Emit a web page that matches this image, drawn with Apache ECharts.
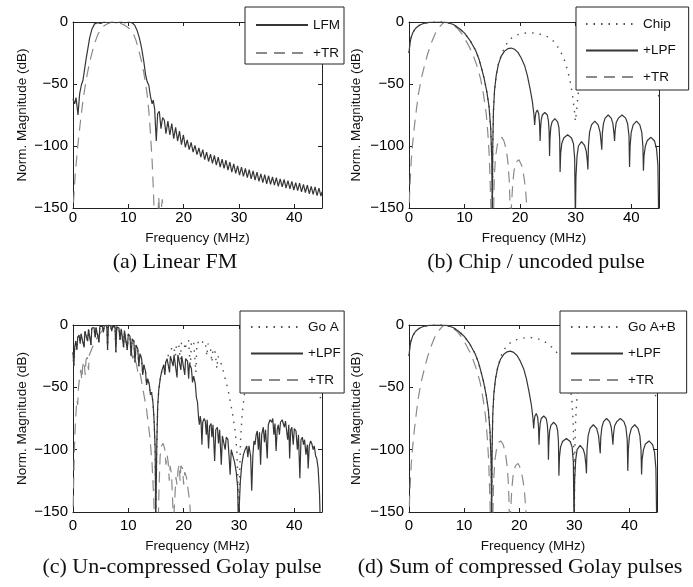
<!DOCTYPE html>
<html><head><meta charset="utf-8">
<script src="https://cdn.jsdelivr.net/npm/echarts/dist/echarts.min.js"></script>
<style>html,body{margin:0;padding:0;background:#fff}#c{width:693px;height:587px}</style>
</head><body><div id="c"></div>
<script>
// ---------- data (frequency MHz, normalized magnitude dB) ----------
const xTickStep = 10, xMin = 0, xMax = 45;
const yTickStep = 50, yMin = -150, yMax = 0;
const captions = ['(a) Linear FM', '(b) Chip / uncoded pulse', '(c) Un-compressed Golay pulse', '(d) Sum of compressed Golay pulses'];

// (a) Linear FM
const lfmA = [[0,-62],[0.3,-66],[0.55,-61],[0.9,-75],[1.2,-58],[1.5,-51],[1.8,-47],[2.1,-38],[2.4,-29],[2.7,-21],[3.0,-13],[3.4,-6],[3.9,-1.5],[4.4,-0.5],[5.0,-1.2],[5.6,0],[6.3,-0.6],[7.0,0],[7.8,-0.6],[8.6,0],[9.4,-0.6],[10.2,0],[10.8,-1],[11.2,-3],[11.6,-7],[12.0,-13],[12.4,-21],[12.8,-32],[13.1,-42],[13.4,-48],[13.7,-51],[14.0,-60],[14.3,-66],[14.5,-63],[14.75,-70],[15.05,-96],[15.3,-74],[15.6,-72],[15.9,-86],[16.2,-77],[16.5,-79],
[16.8,-90],[17.15,-80],[17.5,-91],[17.85,-82],[18.2,-94],[18.55,-85],[18.9,-96],[19.25,-88],[19.6,-99],[19.95,-91],[20.3,-101],[20.65,-95],[21.0,-103],[21.35,-97],[21.7,-105],[22.05,-99.5],[22.4,-107],[22.75,-101.5],[23.1,-109],[23.45,-103],[23.8,-111],[24.15,-105],[24.5,-112.5],[24.85,-106.5],[25.2,-114],[25.55,-107.5],[25.9,-115.5],[26.25,-109],[26.6,-117],[26.95,-110.5],[27.3,-118],[27.65,-111.5],[28.0,-119.5],[28.35,-113],[28.7,-121],[29.05,-114.5],[29.4,-122],[29.75,-116],[30.1,-123.5],[30.45,-117],[30.8,-124.5],[31.15,-118],[31.5,-125.5],[31.85,-119],[32.2,-126.5],[32.55,-120],[32.9,-127.5],[33.25,-121],[33.6,-128.5],[33.95,-122.5],[34.3,-129.5],[34.65,-123],[35.0,-130.5],[35.35,-124],[35.7,-131],[36.05,-125],[36.4,-131.5],[36.75,-125.5],[37.1,-132.5],[37.45,-126.5],[37.8,-133],[38.15,-127],[38.5,-134],[38.85,-128],[39.2,-134.5],[39.55,-128.5],[39.9,-135.5],[40.25,-129.5],[40.6,-136],[40.95,-130],[41.3,-137],[41.65,-131],[42.0,-137.5],[42.35,-131.5],[42.7,-138.5],[43.05,-132.5],[43.4,-139],[43.75,-133],[44.1,-140],[44.45,-134],[44.8,-140.5],[45.0,-137]];
const trA = [[0,-160],[0.1,-145],[0.4,-123],[0.7,-108],[1.0,-94],[1.35,-80],[1.7,-67],[2.05,-56],[2.4,-46],[2.8,-37],[3.2,-29],[3.6,-22],[4.0,-16],[4.5,-10],[5.0,-6],[5.5,-3.5],[6.0,-2],[6.7,-0.6],[7.4,0],[8.0,-0.4],[8.5,-1],[9.2,-2.3],[9.8,-4],[10.3,-5.5],[10.6,-7],[11.0,-10.5],[11.4,-15],[11.9,-23],[12.4,-32],[12.8,-41],[13.2,-52],[13.5,-62],[13.7,-72],[14.0,-90],[14.3,-112],[14.55,-138],[14.7,-160],[15.3,-160],[15.5,-141],[15.7,-160],[15.95,-160],[16.15,-143],[16.35,-160]];

// (b) Chip / uncoded pulse  (same LPF / TR curves also read in (d))
const lpfMainB = [[0,-25],[0.15,-18],[0.35,-13],[0.7,-8.5],[1.2,-5],[1.8,-2.8],[2.6,-1.2],[3.6,-0.3],[4.8,0],[6.0,0],[7.0,-0.6],[8.0,-2],[9.0,-5],[10.0,-9],[11.0,-15],[12.0,-23],[12.6,-30],[13.1,-38],[13.5,-45],[14.0,-56],[14.4,-68],[14.7,-85],[14.9,-110],[15.0,-160]];
const lpfSideB = [[15.08,-100],[15.2,-72],[15.4,-55],[15.7,-43],[16.1,-34],[16.6,-27.5],[17.2,-23.5],[17.8,-21.5],[18.4,-21],[19.0,-22],[19.6,-24.5],[20.2,-29],[20.8,-35],[21.3,-43],[21.8,-54],[22.2,-64],[22.5,-75],[22.62,-83],
[22.72,-77],[22.85,-73],[23.1,-71],[23.35,-74],[23.5,-82],[23.6,-96],
[23.68,-86],[23.8,-79],[24.0,-75],[24.45,-73],[24.9,-75],[25.1,-80],[25.22,-88],[25.3,-108],
[25.38,-94],[25.52,-85],[25.75,-80.5],[26.25,-78],[26.75,-80.5],[26.98,-85],[27.12,-94],[27.2,-121],
[27.3,-106],[27.5,-98],[27.85,-93.5],[28.55,-91],[29.25,-93.5],[29.6,-98],[29.82,-110],[29.95,-160],
[30.05,-125],[30.25,-108],[30.5,-100],[31.05,-96.5],[31.6,-99.5],[31.9,-104],[32.1,-112],[32.2,-119],
[32.3,-100],[32.5,-89],[32.85,-83],[33.45,-80],[34.05,-83],[34.4,-89],[34.6,-98],[34.7,-103],
[34.8,-90],[35.0,-82],[35.3,-77.5],[35.85,-75],[36.4,-77.5],[36.7,-82],[36.9,-90],[37.0,-96],
[37.1,-88],[37.3,-81],[37.7,-77.5],[38.35,-75],[39.0,-77.5],[39.35,-82],[39.6,-92],[39.7,-117],
[39.8,-100],[40.0,-89],[40.35,-83],[40.95,-80],[41.55,-83],[41.9,-89],[42.1,-100],[42.2,-120],
[42.3,-108],[42.55,-100],[42.9,-95.5],[43.55,-93],[44.2,-96],[44.55,-102],[44.8,-115],[44.95,-160]];
const trB = [[0,-160],[0.1,-140],[0.4,-112],[0.7,-96],[1.0,-83],[1.35,-70],[1.7,-58],[2.2,-46],[2.8,-35],[3.4,-25],[4.1,-16],[4.8,-8.5],[5.5,-4],[6.0,-1.5],[6.5,0],[7.2,-0.5],[8.0,-2.5],[8.8,-5.5],[9.6,-10],[10.5,-17],[11.4,-25],[12.2,-35],[12.9,-46],[13.4,-58],[13.9,-74],[14.2,-90],[14.45,-108],[14.65,-135],[14.8,-160],
[15.2,-160],[15.35,-125],[15.6,-108],[15.9,-99],[16.3,-94],[16.7,-93],[17.1,-96],[17.5,-103],[17.8,-113],[18.05,-128],[18.2,-150],[18.3,-160],
[18.5,-160],[18.65,-132],[18.9,-120],[19.3,-113],[19.8,-111],[20.3,-116],[20.7,-125],[21.0,-136],[21.25,-152],[21.35,-160]];
const chipUpperB = [[15.08,-100],[15.2,-72],[15.4,-55],[15.7,-43],[16.1,-34],[16.6,-27],[17.2,-20.5],[17.8,-16],[18.5,-12.8],[19.2,-10.8],[20,-9.6],[21,-8.9],[22,-8.7],[23,-9.1],[24,-10.2],[25,-12],[25.7,-14],[26.5,-18],[27.3,-24],[28,-31],[28.6,-40],[29.1,-50],[29.5,-61],[29.8,-73],[29.95,-80],[30.05,-80],[30.2,-70],[30.5,-56],[31,-44],[32,-31],[33,-24],[34,-20],[35,-17.5],[36,-16.5],[37,-16.5],[38,-17.5],[39,-19.5],[40,-22],[41,-26],[42,-31],[43,-38],[43.8,-45],[44.3,-50],[44.7,-55],[45,-61]];

// (c) Un-compressed Golay pulse
const lpfC1 = [[0,-22],[0.15,-33],[0.3,-18],[0.5,-13],[0.7,-20],[0.85,-10],[1.1,-8],[1.3,-15],[1.45,-7],[1.8,-5.5],[2.0,-18],[2.15,-5],[2.5,-4],[2.65,-13],[2.8,-3.5],[3.1,-3],[3.25,-16],[3.4,-2.5],[3.8,-2],[4.0,-10],[4.15,-2],[4.5,-1.5],[4.7,-14],[4.85,-1.2],[5.3,-1],[5.5,-6],[5.65,-0.5],[6.1,-0.3],[6.25,-20],[6.4,0],[6.8,-0.5],[7.0,-5],[7.2,-0.8],[7.6,-1.5],[7.75,-22],[7.9,-1.5],[8.3,-2.5],[8.5,-12],[8.7,-3],[9.0,-4],[9.15,-18],[9.3,-4.5],[9.6,-6],[9.8,-20],[10.0,-7],[10.3,-9],[10.5,-25],[10.7,-11],[11.0,-13],[11.2,-30],[11.4,-16],[11.7,-19],[11.9,-33],[12.1,-23],[12.4,-27],[12.6,-40],[12.8,-32],[13.1,-37],[13.3,-48],[13.5,-43],[13.8,-48],[14.0,-56],[14.2,-54],[14.45,-62],[14.65,-76],[14.85,-100],[14.95,-160],
[15.05,-160],[15.15,-95],[15.3,-66],[15.5,-52],[15.8,-42],[16.1,-36],[16.4,-32],[16.6,-40],[16.75,-30],[17.0,-27]];
const lpfC2 = [[17.3,-26],[17.45,-38],[17.6,-25],[17.9,-24],[18.1,-33],[18.25,-24],[18.6,-23],[18.8,-42],[18.95,-24],[19.3,-24],[19.5,-36],[19.65,-25],[20.0,-26],[20.2,-40],[20.35,-27],[20.7,-29],[20.9,-43],[21.05,-31],[21.4,-35],[21.6,-46],[21.8,-41],[22.1,-47],[22.3,-58],[22.5,-62],[22.7,-75],
[22.85,-80],[23.0,-73],[23.15,-78],[23.3,-96],[23.45,-78],[23.7,-75],[23.9,-77],[24.1,-88],[24.25,-76],[24.5,-99],[24.7,-81],[24.95,-79],[25.1,-90],[25.3,-80],[25.6,-109],[25.8,-84],[26.1,-82],[26.3,-95],[26.5,-84],[26.8,-112],[27.0,-89],[27.3,-88],[27.5,-100],[27.7,-90],[28.0,-92],[28.2,-105],[28.4,-120],[28.6,-100],[28.9,-101],[29.2,-110],[29.5,-118],[29.75,-130],[29.9,-160],
[30.05,-160],[30.25,-125],[30.5,-112],[30.8,-104],[31.1,-100],[31.4,-97],[31.6,-106],[31.8,-97],[32.1,-105],[32.3,-133],[32.5,-105],[32.7,-93],[32.9,-96],[33.1,-88],[33.3,-85],[33.5,-100],[33.7,-86],[33.9,-112],[34.1,-88],[34.4,-82],[34.6,-94],[34.8,-84],[35.1,-107],[35.3,-80],[35.6,-76],[35.9,-78],[36.1,-75],[36.3,-88],[36.5,-79],[36.7,-101],[36.9,-84],[37.1,-80],[37.3,-88],[37.5,-78],[37.8,-76],[38.0,-75],[38.2,-82],[38.4,-77],[38.6,-78],[38.8,-92],[39.0,-80],[39.15,-107],[39.35,-84],[39.55,-82],[39.8,-96],[40.0,-83],[40.3,-85],[40.55,-100],[40.75,-88],[41.0,-123],[41.2,-92],[41.45,-90],[41.65,-96],[41.85,-92],[42.1,-104],[42.35,-96],[42.5,-115],[42.7,-97],[42.95,-93],[43.15,-95],[43.4,-100],[43.6,-97],[43.85,-105],[44.05,-107],[44.3,-115],[44.55,-135],[44.7,-160]];
const goAUpperC = [[17.4,-22],[17.8,-19],[18.2,-17],[18.5,-25],[18.7,-16],[19.1,-15],[19.4,-28],[19.6,-14.5],[20.0,-13.5],[20.3,-20],[20.5,-13],[20.9,-12.5],[21.2,-35],[21.4,-13],[21.8,-13],[22.2,-38],[22.4,-14],[22.8,-14],[23.2,-16],[23.5,-13],[23.9,-13.5],[24.2,-25],[24.4,-15],[24.8,-17],[25.1,-30],[25.3,-19],[25.7,-22],[26.0,-35],[26.2,-25],[26.6,-29],[27.0,-34],[27.3,-40],[27.7,-46],[28.1,-54],[28.5,-63],[28.9,-73],[29.3,-85],[29.6,-100],[29.85,-130],[29.95,-160],[30.05,-130],[30.3,-90],[30.6,-70],[31,-55],[32,-40],[33,-32],[34,-27],[35,-25],[36,-24],[37,-24],[38,-25],[39,-27],[40,-30],[41,-34],[42,-39],[43,-45],[44,-52],[44.6,-57],[45,-62]];
const trC = [[0,-160],[0.1,-130],[0.25,-100],[0.4,-82],[0.55,-70],[0.7,-60],[0.85,-64],[1.0,-50],[1.2,-42],[1.4,-36],[1.6,-44],[1.75,-33],[2.0,-29],[2.2,-40],[2.35,-28],[2.6,-26],[2.8,-36],[2.95,-24],[3.4,-19],[3.9,-14],[4.5,-9],[5.2,-5],[5.9,-2],[6.5,-0.5],[7.1,-1],[7.8,-3],[8.5,-6],[9.2,-10],[9.9,-15],[10.5,-20],[10.8,-27],[11.0,-24],[11.5,-32],[11.8,-40],[12.1,-38],[12.7,-53],[13.3,-68],[13.9,-90],[14.3,-112],[14.6,-140],[14.75,-160],
[15.4,-160],[15.55,-130],[15.75,-105],[16.0,-97],[16.3,-95],[16.6,-100],[16.8,-112],[17.0,-104],[17.2,-110],[17.4,-125],[17.55,-113],[17.8,-120],[18.0,-140],[18.15,-160],
[18.3,-160],[18.45,-135],[18.6,-122],[18.8,-128],[19.0,-116],[19.2,-112],[19.35,-125],[19.5,-113],[19.8,-115],[20.0,-128],[20.2,-118],[20.5,-122],[20.8,-132],[21.1,-142],[21.3,-160]];

// (d) Sum of compressed Golay pulses
const goABUpperD = [[15.08,-100],[15.2,-72],[15.4,-55],[15.7,-43],[16.1,-34],[16.6,-26],[17.2,-20],[18,-15.5],[19,-12.5],[20,-11],[21,-10.3],[22,-10],[23,-10.5],[24,-12],[25,-14.5],[26,-18],[27,-23],[28,-30],[28.7,-38],[29.2,-48],[29.55,-60],[29.8,-80],[29.93,-110],[30.0,-160],[30.07,-110],[30.2,-80],[30.45,-60],[30.8,-48],[31.3,-38],[32,-30],[33,-23],[34,-19.5],[35,-17.5],[36,-16.5],[37,-16.5],[38,-17.5],[39,-19.5],[40,-22],[41,-26],[42,-31],[43,-38],[43.8,-45],[44.4,-52],[45,-60]];

// ---------- layout / styles ----------
const SANS = '"Liberation Sans", Arial, Helvetica, sans-serif';
const SERIF = '"Liberation Serif", "Times New Roman", serif';
const INK = '#111';
const grids = [
  {left: 73, top: 22, width: 249, height: 186, lblMargin: 2, nameGap: 23, yNameGap: 44},
  {left: 409, top: 22, width: 250, height: 186, lblMargin: 2, nameGap: 23, yNameGap: 46},
  {left: 73, top: 325, width: 249, height: 187, lblMargin: 6, nameGap: 27, yNameGap: 44},
  {left: 409, top: 325, width: 248, height: 187, lblMargin: 6, nameGap: 27, yNameGap: 46}
];
const SOLID = {color: '#363636', width: 1.2, type: 'solid'};
const DASH = {color: '#8a8a8a', width: 1.2, type: [11, 7]};
const DOT = {color: '#505050', width: 1.4, type: [1.5, 6]};

const xAxis = [], yAxis = [];
grids.forEach((g, i) => {
  const axLine = {show: true, onZero: false, lineStyle: {color: '#222', width: 1}};
  const tick = {show: true, inside: true, length: 4, lineStyle: {color: '#222', width: 1}};
  xAxis.push({gridIndex: i, type: 'value', min: xMin, max: xMax, interval: xTickStep, position: 'bottom',
    axisLine: axLine, axisTick: tick, splitLine: {show: false},
    axisLabel: {margin: g.lblMargin, fontFamily: SANS, fontSize: 15, color: '#000',
      formatter: v => (v % xTickStep === 0 ? String(v) : '')},
    name: 'Frequency (MHz)', nameLocation: 'middle', nameGap: g.nameGap,
    nameTextStyle: {fontFamily: SANS, fontSize: 13.5, color: INK}});
  xAxis.push({gridIndex: i, type: 'value', min: xMin, max: xMax, interval: xTickStep, position: 'top',
    axisLine: axLine, axisTick: tick, splitLine: {show: false}, axisLabel: {show: false}});
  yAxis.push({gridIndex: i, type: 'value', min: yMin, max: yMax, interval: yTickStep, position: 'left',
    axisLine: axLine, axisTick: tick, splitLine: {show: false},
    axisLabel: {margin: 5, fontFamily: SANS, fontSize: 15, color: '#000',
      formatter: v => String(v).replace('-', '\u2212')},
    name: 'Norm. Magnitude (dB)', nameLocation: 'middle', nameGap: g.yNameGap, nameRotate: 90,
    nameTextStyle: {fontFamily: SANS, fontSize: 13.5, color: INK}});
  yAxis.push({gridIndex: i, type: 'value', min: yMin, max: yMax, interval: yTickStep, position: 'right',
    axisLine: axLine, axisTick: tick, splitLine: {show: false}, axisLabel: {show: false}});
});

function line(name, data, st, gi) {
  return {type: 'line', name, data, xAxisIndex: 2 * gi, yAxisIndex: 2 * gi,
    symbol: 'none', showSymbol: false, clip: true, silent: true, animation: false,
    color: st.color, itemStyle: {color: st.color},
    lineStyle: {color: st.color, width: st.width, type: st.type}};
}

const series = [
  line('+TR', trA, DASH, 0),
  line('LFM', lfmA, SOLID, 0),
  line('Chip', lpfMainB.concat(chipUpperB), DOT, 1),
  line('+TR', trB, DASH, 1),
  line('+LPF', lpfMainB.concat(lpfSideB), SOLID, 1),
  line('Go A', lpfC1.concat(goAUpperC), DOT, 2),
  line('+TR', trC, DASH, 2),
  line('+LPF', lpfC1.concat(lpfC2), SOLID, 2),
  line('Go A+B', lpfMainB.concat(goABUpperD), DOT, 3),
  line('+TR', trB, DASH, 3),
  line('+LPF', lpfMainB.concat(lpfSideB), SOLID, 3)
];

function legend(names, left, top, padding, gap) {
  return {data: names, orient: 'vertical', left, top, padding, itemGap: gap,
    itemWidth: 52, itemHeight: 14, selectedMode: false,
    itemStyle: {color: 'rgba(0,0,0,0)', borderColor: 'rgba(0,0,0,0)', borderWidth: 0, opacity: 0},
    backgroundColor: '#fff', borderColor: '#222', borderWidth: 1, borderRadius: 0,
    textStyle: {fontFamily: SANS, fontSize: 13.5, color: INK, lineHeight: 14}};
}
const legends = [
  legend(['LFM', '+TR'], 245, 7, [11, 4, 4, 10], 14),
  legend(['Chip', '+LPF', '+TR'], 576, 7, [10, 13, 6, 9], 12.5),
  legend(['Go A', '+LPF', '+TR'], 240, 311, [9, 3.5, 6, 10], 12.5),
  legend(['Go A+B', '+LPF', '+TR'], 560, 311, [9, 11, 6, 10], 12.5)
];

const capPos = [[175, 262], [536, 262], [182, 567], [520, 567]];
const graphic = captions.map((t, i) => ({type: 'text', x: capPos[i][0], y: capPos[i][1], silent: true,
  style: {text: t, fontFamily: SERIF, fontSize: 22, fill: INK, textAlign: 'center', textVerticalAlign: 'middle'}}));

const chart = echarts.init(document.getElementById('c'), null, {renderer: 'canvas'});
chart.setOption({
  backgroundColor: '#fff',
  animation: false,
  grid: grids.map(g => ({left: g.left, top: g.top, width: g.width, height: g.height, containLabel: false})),
  xAxis, yAxis, series, legend: legends, graphic
});
</script></body></html>
